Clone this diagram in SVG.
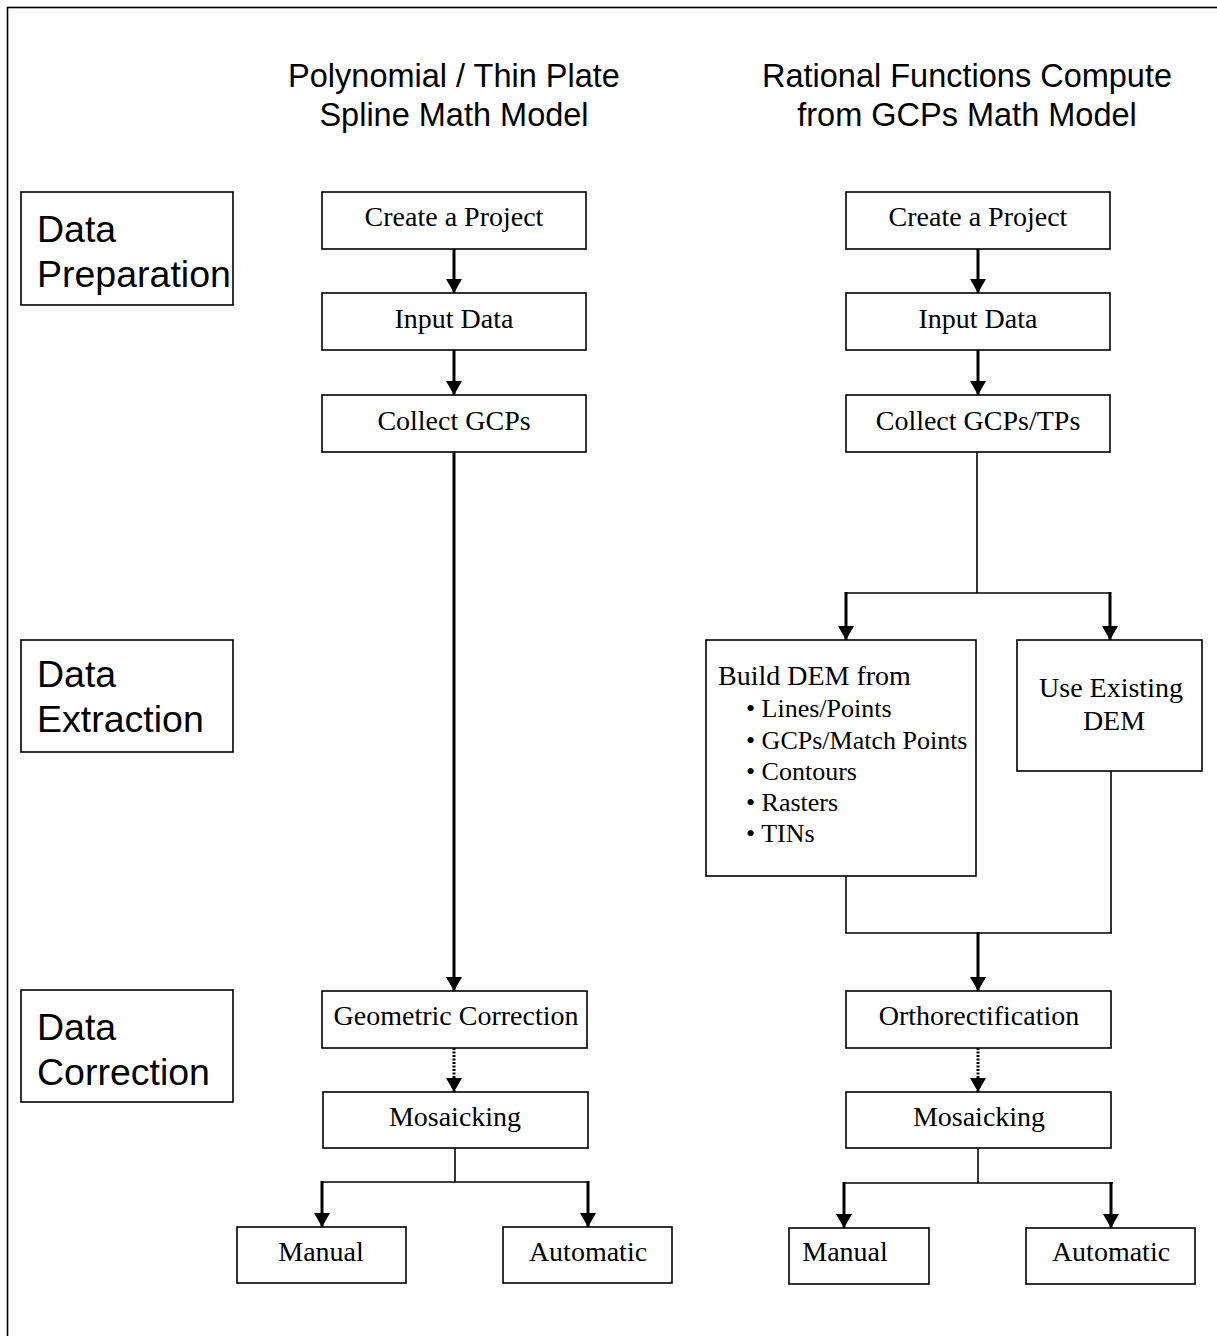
<svg xmlns="http://www.w3.org/2000/svg" width="1217" height="1336" viewBox="0 0 1217 1336">
<style>
.box{fill:#fff;stroke:#000;stroke-width:1.6}
.t{font-family:"Liberation Serif","Times New Roman",serif;font-size:28px;fill:#000}
.b{font-size:26px}
.c{text-anchor:middle}
.h{font-family:"Liberation Sans",Arial,sans-serif;font-size:32.5px;fill:#000;text-anchor:middle}
.s{font-family:"Liberation Sans",Arial,sans-serif;font-size:37.5px;fill:#000}
.thin{fill:none;stroke:#000;stroke-width:1.6}
.thick{fill:none;stroke:#000;stroke-width:3}
.dot{fill:none;stroke:#000;stroke-width:3;stroke-dasharray:2 1.5}
</style>
<defs>
<marker id="ah" viewBox="0 0 14 16" refX="14" refY="8" markerWidth="14" markerHeight="16" markerUnits="userSpaceOnUse" orient="auto">
<path d="M0,0 L14,8 L0,16 z" fill="#000"/>
</marker>
</defs>
<rect x="7.5" y="7.5" width="1230" height="1350" fill="#fff" stroke="#000" stroke-width="1.6"/>

<g id="headers">
<text class="h" x="454" y="87">Polynomial / Thin Plate</text>
<text class="h" x="454" y="126">Spline Math Model</text>
<text class="h" x="967" y="87">Rational Functions Compute</text>
<text class="h" x="967" y="126">from GCPs Math Model</text>
</g>

<g id="stage-prep"><rect class="box" x="21" y="192" width="212" height="113"/><text class="s" x="37" y="242">Data</text><text class="s" x="37" y="287">Preparation</text></g>
<g id="stage-extr"><rect class="box" x="21" y="640" width="212" height="112"/><text class="s" x="37" y="687">Data</text><text class="s" x="37" y="732">Extraction</text></g>
<g id="stage-corr"><rect class="box" x="21" y="990" width="212" height="112"/><text class="s" x="37" y="1040">Data</text><text class="s" x="37" y="1085">Correction</text></g>

<g id="connectors">
<line class="thick" x1="454" y1="249" x2="454" y2="293" marker-end="url(#ah)"/>
<line class="thick" x1="454" y1="350" x2="454" y2="395" marker-end="url(#ah)"/>
<line class="thick" x1="454" y1="452" x2="454" y2="991" marker-end="url(#ah)"/>
<line class="dot" x1="454" y1="1048" x2="454" y2="1092" marker-end="url(#ah)"/>
<polyline class="thin" points="455,1148 455,1182"/>
<line class="thin" x1="321" y1="1182" x2="589" y2="1182"/>
<line class="thick" x1="322" y1="1181" x2="322" y2="1227" marker-end="url(#ah)"/>
<line class="thick" x1="588" y1="1181" x2="588" y2="1227" marker-end="url(#ah)"/>

<line class="thick" x1="978" y1="249" x2="978" y2="293" marker-end="url(#ah)"/>
<line class="thick" x1="978" y1="350" x2="978" y2="395" marker-end="url(#ah)"/>
<line class="thin" x1="977" y1="452" x2="977" y2="593"/>
<line class="thin" x1="845" y1="593" x2="1111" y2="593"/>
<line class="thick" x1="846" y1="592" x2="846" y2="640" marker-end="url(#ah)"/>
<line class="thick" x1="1110" y1="592" x2="1110" y2="640" marker-end="url(#ah)"/>
<line class="thin" x1="846" y1="876" x2="846" y2="933"/>
<line class="thin" x1="1111" y1="771" x2="1111" y2="933"/>
<line class="thin" x1="845" y1="933" x2="1112" y2="933"/>
<line class="thick" x1="978" y1="932" x2="978" y2="991" marker-end="url(#ah)"/>
<line class="dot" x1="978" y1="1048" x2="978" y2="1092" marker-end="url(#ah)"/>
<line class="thin" x1="978" y1="1148" x2="978" y2="1183"/>
<line class="thin" x1="843" y1="1183" x2="1113" y2="1183"/>
<line class="thick" x1="844" y1="1182" x2="844" y2="1228" marker-end="url(#ah)"/>
<line class="thick" x1="1111" y1="1182" x2="1111" y2="1228" marker-end="url(#ah)"/>
</g>

<g id="l-create"><rect class="box" x="322" y="192" width="264" height="57"/><text class="t c" x="454" y="226">Create a Project</text></g>
<g id="l-input"><rect class="box" x="322" y="293" width="264" height="57"/><text class="t c" x="454" y="328">Input Data</text></g>
<g id="l-collect"><rect class="box" x="322" y="395" width="264" height="57"/><text class="t c" x="454" y="430">Collect GCPs</text></g>
<g id="l-geo"><rect class="box" x="322" y="991" width="265" height="57"/><text class="t c" x="456" y="1025">Geometric Correction</text></g>
<g id="l-mosaic"><rect class="box" x="323" y="1092" width="265" height="56"/><text class="t c" x="455" y="1126">Mosaicking</text></g>
<g id="l-manual"><rect class="box" x="237" y="1227" width="169" height="56"/><text class="t c" x="321" y="1261">Manual</text></g>
<g id="l-auto"><rect class="box" x="503" y="1227" width="169" height="56"/><text class="t c" x="588" y="1261">Automatic</text></g>

<g id="r-create"><rect class="box" x="846" y="192" width="264" height="57"/><text class="t c" x="978" y="226">Create a Project</text></g>
<g id="r-input"><rect class="box" x="846" y="293" width="264" height="57"/><text class="t c" x="978" y="328">Input Data</text></g>
<g id="r-collect"><rect class="box" x="846" y="395" width="264" height="57"/><text class="t c" x="978" y="430">Collect GCPs/TPs</text></g>
<g id="r-build"><rect class="box" x="706" y="640" width="270" height="236"/>
<text class="t" x="718" y="685">Build DEM from</text>
<text class="t b" x="746" y="717">• Lines/Points</text>
<text class="t b" x="746" y="749">• GCPs/Match Points</text>
<text class="t b" x="746" y="780">• Contours</text>
<text class="t b" x="746" y="811">• Rasters</text>
<text class="t b" x="746" y="842">• TINs</text>
</g>
<g id="r-exist"><rect class="box" x="1017" y="640" width="185" height="131"/><text class="t c" x="1111" y="697">Use Existing</text><text class="t c" x="1114" y="730">DEM</text></g>
<g id="r-ortho"><rect class="box" x="846" y="991" width="265" height="57"/><text class="t c" x="979" y="1025">Orthorectification</text></g>
<g id="r-mosaic"><rect class="box" x="846" y="1092" width="265" height="56"/><text class="t c" x="979" y="1126">Mosaicking</text></g>
<g id="r-manual"><rect class="box" x="789" y="1228" width="140" height="56"/><text class="t c" x="845" y="1261">Manual</text></g>
<g id="r-auto"><rect class="box" x="1026" y="1228" width="169" height="56"/><text class="t c" x="1111" y="1261">Automatic</text></g>
</svg>
